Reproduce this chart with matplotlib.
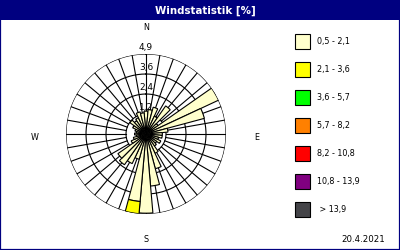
import numpy as np
import matplotlib
matplotlib.use('Agg')
import matplotlib.pyplot as plt
from matplotlib.patches import Rectangle

# wind directions (deg, clockwise from north)
directions = np.arange(0, 360, 10)

# frequency [%] per direction, speed class 0,5 - 2,1
freq_05_21 = [1.4, 1.5, 1.7, 1.2, 2.1, 0.9, 4.9, 3.7, 1.35, 1.0, 1.0, 0.8,
              1.0, 0.8, 0.9, 1.3, 2.2, 3.2, 4.85, 4.15, 1.6, 2.0, 2.3, 2.1,
              1.0, 0.8, 0.6, 0.7, 0.6, 0.7, 0.9, 1.2, 1.0, 1.1, 1.4, 1.3]
# speed class 2,1 - 3,6 (only one direction)
freq_21_36 = [0, 0, 0, 0, 0, 0, 0, 0, 0, 0, 0, 0,
              0, 0, 0, 0, 0, 0, 0, 0.75, 0, 0, 0, 0,
              0, 0, 0, 0, 0, 0, 0, 0, 0, 0, 0, 0]

class_labels = ['0,5 - 2,1', '2,1 - 3,6', '3,6 - 5,7', '5,7 - 8,2',
                '8,2 - 10,8', '10,8 - 13,9', ' > 13,9']
class_colors = ['#FFFFCC', '#FFFF00', '#00FF00', '#FF8000',
                '#FF0000', '#800080', '#444448']

ring_values = [1.225, 2.45, 3.675, 4.9]
ring_labels = ['1,2', '2,4', '3,6', '4,9']
date_text = '20.4.2021'

W, H = 400, 250
navy = '#000080'
font = 'DejaVu Sans'

fig = plt.figure(figsize=(W / 100, H / 100), dpi=100)
fig.patch.set_facecolor('white')

def fx(px):
    return px / W

def fy(py):
    return 1 - py / H

# title bar and frame
fig.add_artist(Rectangle((0, fy(20)), 1, 20 / H, transform=fig.transFigure,
                         facecolor=navy, edgecolor='none'))
fig.add_artist(Rectangle((0, 0), 1, 1, transform=fig.transFigure,
                         fill=False, edgecolor=navy, lw=1.6))
fig.text(fx(205), fy(10.5), 'Windstatistik [%]', color='white', fontsize=7.4,
         fontweight='bold', ha='center', va='center', family=font)

# wind rose
cx, cy, rad = 146, 134, 80
ax = fig.add_axes([fx(cx - rad), fy(cy + rad), 2 * rad / W, 2 * rad / H],
                  projection='polar')
ax.set_theta_zero_location('N')
ax.set_theta_direction(-1)
ax.set_ylim(0, ring_values[-1])
ax.set_axis_off()

theta = np.deg2rad(directions)
circ = np.linspace(0, 2 * np.pi, 361)
for r in ring_values:
    ax.plot(circ, np.full_like(circ, r), color='black', lw=0.8, zorder=1)
for t in theta:
    ax.plot([t, t], [ring_values[0], ring_values[-1]], color='black',
            lw=0.8, zorder=1)

bottom = np.zeros(len(directions))
for vals, col in zip([freq_05_21, freq_21_36], class_colors):
    vals = np.asarray(vals, dtype=float)
    m = vals > 0
    ax.bar(theta[m], vals[m], width=np.deg2rad(10), bottom=bottom[m],
           color=col, edgecolor='black', lw=0.8, zorder=2)
    bottom = bottom + vals

for r, lab in zip(ring_values, ring_labels):
    ax.annotate(lab, (0, r), xytext=(0, 1.5), textcoords='offset points',
                ha='center', va='bottom', fontsize=6.5, family=font, zorder=3)

# compass letters
for lab, (px, py) in zip(['N', 'E', 'S', 'W'],
                         [(146, 27), (256.5, 137), (146, 239), (34.5, 137)]):
    fig.text(fx(px), fy(py), lab, fontsize=5.8, ha='center', va='center',
             family=font)

# legend
for i, (lab, col) in enumerate(zip(class_labels, class_colors)):
    yc = 41.5 + 28 * i
    fig.add_artist(Rectangle((fx(295), fy(yc + 7.5)), 15 / W, 15 / H,
                             transform=fig.transFigure, facecolor=col,
                             edgecolor='black', lw=0.8))
    fig.text(fx(317), fy(yc), lab, fontsize=5.8, ha='left', va='center',
             family=font)

fig.text(fx(385), fy(239), date_text, fontsize=6.2, ha='right', va='center',
         family=font)

fig.savefig('out.png', dpi=100, facecolor='white')
